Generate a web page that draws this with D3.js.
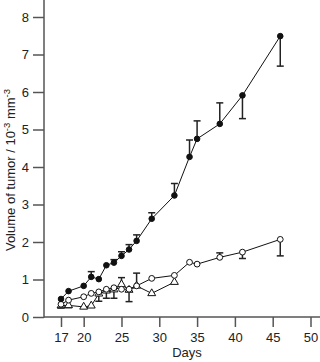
<!DOCTYPE html>
<html>
<head>
<meta charset="utf-8">
<script src="https://cdn.jsdelivr.net/npm/d3@7"></script>
<style>
  body { margin: 0; background: #fff; }
  text { font-family: "Liberation Sans", Arial, sans-serif; }
</style>
</head>
<body>
<svg id="drawing_region"></svg>
<script>
// days and volumes
const daysA = [17, 18, 20, 21, 22, 23, 24, 25, 26, 27, 29, 32, 34, 35, 38, 41, 46];
const filledVals = [0.48, 0.69, 0.83, 1.07, 1.01, 1.38, 1.45, 1.63, 1.80, 2.03, 2.62, 3.24, 4.27, 4.75, 5.15, 5.91, 7.49];
// signed error: + draws bar upward, - downward
const filledErr = [0, 0, 0, 0.14, 0, 0, 0.08, 0.11, 0.13, 0.16, 0.16, 0.32, 0.45, 0.48, 0.56, -0.62, -0.80];

const openVals = [0.34, 0.45, 0.54, 0.63, 0.67, 0.74, 0.78, 0.74, 0.74, 0.83, 1.03, 1.11, 1.46, 1.41, 1.59, 1.73, 2.07];
const openErr = [-0.1, 0, 0, 0, 0, 0, 0, 0, -0.33, 0, 0, 0, 0, 0, 0.12, -0.17, -0.44];

const daysB = [17, 18, 20, 21, 22, 23, 24, 25, 26, 27, 29, 32];
const triVals = [0.30, 0.31, 0.27, 0.30, 0.62, 0.70, 0.73, 0.87, 0.72, 0.83, 0.63, 0.93];
const triErr = [0, -0.06, 0, 0, -0.2, -0.2, -0.23, 0.18, 0, 0.34, 0, 0];

const xTicks = [17, 20, 25, 30, 35, 40, 45, 50];
const yTicks = [0, 1, 2, 3, 4, 5, 6, 7, 8];

const width = 320, height = 362;
const svg = d3.select('#drawing_region')
    .attr('width', width)
    .attr('height', height);

const xscale = d3.scaleLinear().domain([17, 50]).range([61, 310.5]);
const yscale = d3.scaleLinear().domain([0, 8]).range([317, 17]);

const axisColor = '#555';
const fontSize = '13px';

// axes
const xaxis_group = svg.append('g')
    .attr('transform', `translate(0, ${yscale(0)})`)
    .call(d3.axisBottom(xscale).tickValues(xTicks).tickSize(10).tickPadding(6).tickSizeOuter(0));
const yaxis_group = svg.append('g')
    .attr('transform', `translate(44, 0)`)
    .call(d3.axisLeft(yscale).tickValues(yTicks).tickSize(11).tickPadding(4).tickSizeOuter(0));

[xaxis_group, yaxis_group].forEach(g => {
    g.select('.domain').remove();
    g.selectAll('.tick line').attr('stroke', axisColor).attr('stroke-width', 1.5);
    g.selectAll('.tick text').attr('fill', '#222').style('font-size', fontSize)
        .style('font-family', '"Liberation Sans", Arial, sans-serif');
});

svg.append('line')
    .attr('x1', 44).attr('x2', 44).attr('y1', 0).attr('y2', yscale(0) + 0.75)
    .attr('stroke', axisColor).attr('stroke-width', 1.5);
svg.append('line')
    .attr('x1', 44).attr('x2', 320).attr('y1', yscale(0)).attr('y2', yscale(0))
    .attr('stroke', axisColor).attr('stroke-width', 1.5);

// axis titles
svg.append('text')
    .attr('x', 187).attr('y', 357)
    .attr('text-anchor', 'middle')
    .style('font-size', fontSize)
    .attr('fill', '#222')
    .text('Days');

const ylab = svg.append('text')
    .attr('transform', 'translate(15, 170) rotate(-90)')
    .attr('text-anchor', 'middle')
    .style('font-size', fontSize)
    .attr('fill', '#222');
ylab.append('tspan').text('Volume of tumor / 10');
ylab.append('tspan').attr('dy', -5).style('font-size', '9.5px').text('-3');
ylab.append('tspan').attr('dy', 5).text(' mm');
ylab.append('tspan').attr('dy', -5).style('font-size', '9.5px').text('-3');

const line = d3.line().x(d => xscale(d[0])).y(d => yscale(d[1]));

function drawSeries(days, vals, errs, shape) {
    const pts = days.map((d, i) => [d, vals[i], errs[i]]);
    const g = svg.append('g');

    // error bars
    const eb = g.selectAll('g.err')
        .data(pts.filter(p => p[2] !== 0))
        .join('g');
    eb.append('line')
        .attr('x1', p => xscale(p[0])).attr('x2', p => xscale(p[0]))
        .attr('y1', p => yscale(p[1])).attr('y2', p => yscale(p[1] + p[2]))
        .attr('stroke', '#222').attr('stroke-width', 1.5);
    eb.append('line')
        .attr('x1', p => xscale(p[0]) - 3.5).attr('x2', p => xscale(p[0]) + 3.5)
        .attr('y1', p => yscale(p[1] + p[2])).attr('y2', p => yscale(p[1] + p[2]))
        .attr('stroke', '#222').attr('stroke-width', 1.5);

    g.append('path')
        .datum(pts)
        .attr('d', line)
        .attr('fill', 'none')
        .attr('stroke', '#111')
        .attr('stroke-width', 1);

    if (shape === 'tri') {
        g.selectAll('path.mark')
            .data(pts)
            .join('path')
            .attr('class', 'mark')
            .attr('d', d3.symbol(d3.symbolTriangle, 27))
            .attr('transform', p => `translate(${xscale(p[0])}, ${yscale(p[1])})`)
            .attr('fill', '#fff').attr('stroke', '#111').attr('stroke-width', 1);
    } else {
        g.selectAll('circle')
            .data(pts)
            .join('circle')
            .attr('cx', p => xscale(p[0]))
            .attr('cy', p => yscale(p[1]))
            .attr('r', shape === 'filled' ? 2.8 : 2.9)
            .attr('fill', shape === 'filled' ? '#111' : '#fff')
            .attr('stroke', '#111').attr('stroke-width', 1);
    }
}

drawSeries(daysB, triVals, triErr, 'tri');
drawSeries(daysA, openVals, openErr, 'open');
drawSeries(daysA, filledVals, filledErr, 'filled');
</script>
</body>
</html>
